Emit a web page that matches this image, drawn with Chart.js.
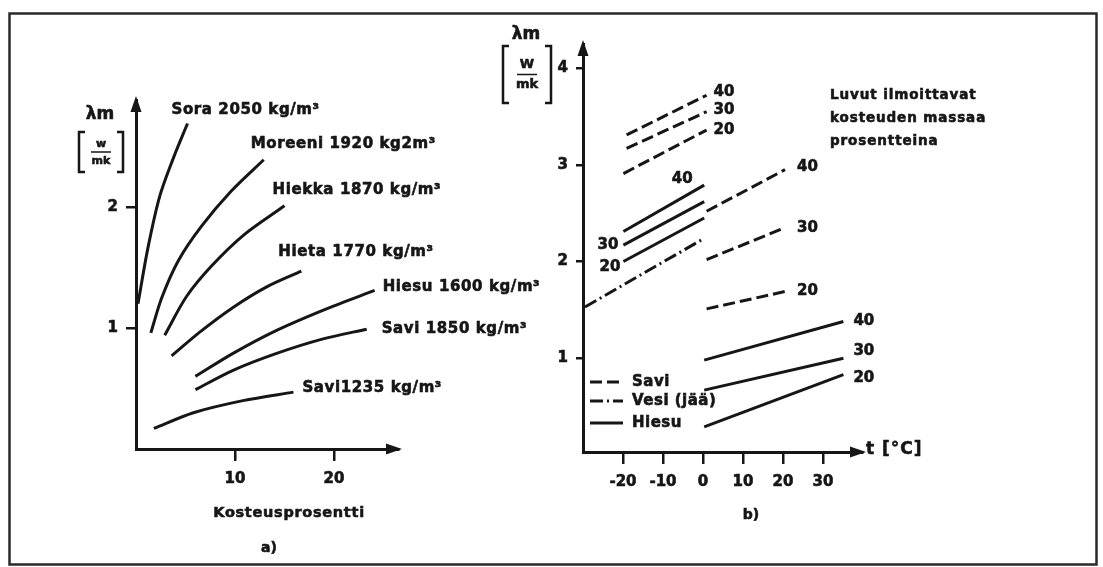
<!DOCTYPE html>
<html>
<head>
<meta charset="utf-8">
<title>Lämmönjohtavuus λm</title>
<script src="https://cdn.jsdelivr.net/npm/chart.js@4.4.1/dist/chart.umd.min.js"></script>
<style>
  html, body { margin: 0; padding: 0; background: #fff; }
  #wrap { position: relative; width: 1103px; height: 567px; }
  #wrap canvas { position: absolute; left: 0; top: 0; }
</style>
</head>
<body>
<div id="wrap">
  <canvas id="chartA" width="1103" height="567"></canvas>
  <canvas id="chartB" width="1103" height="567"></canvas>
</div>
<script>
// a) lambda_m [W/mK] against moisture percent
var moistureTicks = [10, 20];
var lambdaTicksA = [1, 2];
var sora      = [[0.2, 1.20], [1.2, 1.66], [2.4, 2.09], [3.8, 2.41], [5.2, 2.69]];
var moreeni   = [[1.5, 0.96], [2.6, 1.25], [4.3, 1.56], [6.6, 1.84], [9.6, 2.13], [12.9, 2.39]];
var hiekka    = [[2.9, 0.94], [5.1, 1.26], [7.6, 1.51], [10.9, 1.77], [15.0, 2.01]];
var hieta     = [[3.6, 0.77], [6.5, 0.97], [9.8, 1.17], [13.2, 1.34], [16.7, 1.47]];
var hiesu     = [[6.0, 0.60], [9.8, 0.79], [14.2, 0.98], [19.3, 1.16], [24.1, 1.31]];
var savi1850  = [[6.0, 0.49], [9.8, 0.65], [14.2, 0.79], [18.9, 0.91], [23.3, 0.99]];
var savi1235  = [[1.8, 0.17], [5.8, 0.30], [10.8, 0.40], [15.9, 0.47]];

// b) lambda_m [W/mK] against temperature, moisture 20/30/40 %
var tempTicks = [-20, -10, 0, 10, 20, 30];
var lambdaTicksB = [1, 2, 3, 4];
var saviCold40  = [[-19.1, 3.31], [0.9, 3.72]];
var saviCold30  = [[-19.1, 3.17], [0.9, 3.55]];
var saviCold20  = [[-19.9, 2.91], [0.9, 3.36]];
var hiesuCold40 = [[-19.9, 2.31], [0.3, 2.79]];
var hiesuCold30 = [[-19.9, 2.17], [0.3, 2.62]];
var hiesuCold20 = [[-19.9, 2.00], [0.3, 2.45]];
var vesiJaa     = [[-29.5, 1.53], [0.3, 2.24]];
var saviWarm40  = [[0.9, 2.52], [20.5, 2.95]];
var saviWarm30  = [[0.9, 2.02], [20.5, 2.35]];
var saviWarm20  = [[0.9, 1.51], [20.5, 1.69]];
var hiesuWarm40 = [[0.3, 0.98], [35.1, 1.38]];
var hiesuWarm30 = [[0.3, 0.67], [35.1, 1.00]];
var hiesuWarm20 = [[0.3, 0.29], [35.1, 0.83]];

var FONT = '"DejaVu Sans", "Liberation Sans", sans-serif';
var INK = '#161616';
var DASH = { savi: [12, 5], vesi: [13, 4, 2, 4], hiesu: [] };

function toXY(pts) {
  return pts.map(function (p) { return { x: p[0], y: p[1] }; });
}

// bold text with a thin outline, the print is heavy
function text(ctx, s, x, y, size, align, spacing) {
  ctx.save();
  ctx.font = 'bold ' + size + 'px ' + FONT;
  ctx.fillStyle = INK;
  ctx.strokeStyle = INK;
  ctx.lineWidth = 0.6;
  ctx.textAlign = align || 'left';
  ctx.textBaseline = 'middle';
  if ('letterSpacing' in ctx) ctx.letterSpacing = (spacing || 0) + 'px';
  ctx.fillText(s, x, y);
  ctx.strokeText(s, x, y);
  ctx.restore();
}

// [ W / mk ] unit in brackets
function unitBracket(ctx, cx, top, bottom, halfW, size, w) {
  var l = cx - halfW, r = cx + halfW, mid = (top + bottom) / 2;
  ctx.save();
  ctx.strokeStyle = INK;
  ctx.lineWidth = 2.5;
  ctx.beginPath();
  ctx.moveTo(l + 6, top); ctx.lineTo(l, top); ctx.lineTo(l, bottom); ctx.lineTo(l + 6, bottom);
  ctx.moveTo(r - 6, top); ctx.lineTo(r, top); ctx.lineTo(r, bottom); ctx.lineTo(r - 6, bottom);
  ctx.stroke();
  ctx.lineWidth = 1.5;
  ctx.beginPath();
  ctx.moveTo(cx - 10, mid); ctx.lineTo(cx + 10, mid);
  ctx.stroke();
  ctx.restore();
  text(ctx, w, cx, mid - size * 0.75, size, 'center');
  text(ctx, 'mk', cx, mid + size * 0.8, size, 'center');
}

function axisOpts(min, max, ticks, horizontal, tickLen, pad) {
  return {
    type: 'linear',
    min: min,
    max: max,
    afterBuildTicks: function (s) {
      s.ticks = ticks.map(function (v) { return { value: v }; });
    },
    afterFit: function (s) {
      if (horizontal) s.height = 40; else s.width = 40;
    },
    border: { display: true, color: INK, width: 3 },
    grid: { drawOnChartArea: false, drawTicks: true, tickLength: tickLen, color: INK, lineWidth: 2.5 },
    ticks: {
      color: INK,
      padding: pad,
      autoSkip: false,
      maxRotation: 0,
      textStrokeColor: INK,
      textStrokeWidth: 0.6,
      font: { family: FONT, size: 15, weight: 'bold' },
      callback: function (v) { return String(v); }
    }
  };
}

// labels on the line ends, arrowheads on the axes
var markPlugin = {
  id: 'marks',
  afterDatasetsDraw: function (chart) {
    var ctx = chart.ctx;
    chart.data.datasets.forEach(function (ds, i) {
      if (!ds.tag) return;
      var pts = chart.getDatasetMeta(i).data;
      var p = ds.tagAt === 'start' ? pts[0] : pts[pts.length - 1];
      text(ctx, ds.tag, p.x + ds.tagDx, p.y + ds.tagDy, ds.tagSize || 15, ds.tagAlign || 'left', ds.tagSpacing || 0);
    });
    var a = chart.chartArea;
    ctx.save();
    ctx.fillStyle = INK;
    ctx.beginPath();
    ctx.moveTo(a.left, a.top - 4); ctx.lineTo(a.left - 5.5, a.top + 12); ctx.lineTo(a.left + 5.5, a.top + 12);
    ctx.closePath();
    ctx.moveTo(a.right + 4, a.bottom); ctx.lineTo(a.right - 12, a.bottom - 5.5); ctx.lineTo(a.right - 12, a.bottom + 5.5);
    ctx.closePath();
    ctx.fill();
    ctx.restore();
  }
};

var paperA = {
  id: 'paperA',
  afterDraw: function (chart) {
    var ctx = chart.ctx;
    ctx.save();
    ctx.strokeStyle = '#2a2a2a';
    ctx.lineWidth = 2.5;
    ctx.strokeRect(9.5, 13.5, 1087, 551);
    ctx.restore();
    text(ctx, 'λm', 100, 115, 17, 'center');
    unitBracket(ctx, 101, 132, 172, 22, 11, 'w');
    text(ctx, 'Kosteusprosentti', 289, 513, 14.5, 'center', 0.7);
    text(ctx, 'a)', 269, 548, 14, 'center');
  }
};

var paperB = {
  id: 'paperB',
  afterDraw: function (chart) {
    var ctx = chart.ctx;
    text(ctx, 'λm', 526, 35, 17, 'center');
    unitBracket(ctx, 527, 46, 103, 24, 13, 'W');
    text(ctx, 't [°C]', 866, 450, 17, 'left', 1);
    text(ctx, 'b)', 751, 515, 14, 'center');
    text(ctx, 'Luvut ilmoittavat', 830, 95, 13.5, 'left', 0.9);
    text(ctx, 'kosteuden massaa', 830, 118, 13.5, 'left', 0.9);
    text(ctx, 'prosentteina', 830, 141, 13.5, 'left', 0.9);
    // line style key
    var key = [['Savi', DASH.savi, 382], ['Vesi (jää)', DASH.vesi, 401], ['Hiesu', DASH.hiesu, 423]];
    key.forEach(function (k) {
      ctx.save();
      ctx.strokeStyle = INK;
      ctx.lineWidth = 3;
      ctx.setLineDash(k[1]);
      ctx.beginPath();
      ctx.moveTo(590, k[2]); ctx.lineTo(623, k[2]);
      ctx.stroke();
      ctx.restore();
      text(ctx, k[0], 632, k[2], 15, 'left', 0.5);
    });
  }
};

function curve(pts, name, dx, dy) {
  return {
    data: toXY(pts), borderColor: INK, borderWidth: 3, pointRadius: 0,
    tension: 0.3, fill: false,
    tag: name, tagDx: dx, tagDy: dy, tagSize: 15, tagSpacing: 0.6
  };
}

function seg(pts, kind, tag, at, dx, dy, align) {
  return {
    data: toXY(pts), borderColor: INK, borderWidth: 3, pointRadius: 0,
    borderDash: DASH[kind], borderCapStyle: 'butt', fill: false,
    tag: tag, tagAt: at, tagDx: dx, tagDy: dy, tagAlign: align || 'left', tagSize: 15
  };
}

new Chart(document.getElementById('chartA'), {
  type: 'line',
  data: {
    datasets: [
      curve(sora, 'Sora 2050 kg/m³', -16, -13),
      curve(moreeni, 'Moreeni 1920 kg2m³', -13, -16),
      curve(hiekka, 'Hiekka 1870 kg/m³', -12, -16),
      curve(hieta, 'Hieta 1770 kg/m³', -23, -19),
      curve(hiesu, 'Hiesu 1600 kg/m³', 8, -3),
      curve(savi1850, 'Savi 1850 kg/m³', 15, 0),
      curve(savi1235, 'Savi1235 kg/m³', 9, -4)
    ]
  },
  options: {
    responsive: false,
    animation: false,
    devicePixelRatio: 1,
    layout: { padding: { left: 96, right: 705, top: 100, bottom: 78 } },
    plugins: { legend: { display: false }, tooltip: { enabled: false } },
    scales: {
      x: axisOpts(0, 26.46, moistureTicks, true, 12, 9),
      y: axisOpts(0, 2.884, lambdaTicksA, false, 10, 8)
    }
  },
  plugins: [markPlugin, paperA]
});

new Chart(document.getElementById('chartB'), {
  type: 'line',
  data: {
    datasets: [
      seg(saviCold40, 'savi', '40', 'end', 7, -3),
      seg(saviCold30, 'savi', '30', 'end', 7, -2),
      seg(saviCold20, 'savi', '20', 'end', 7, 0),
      seg(hiesuCold40, 'hiesu', '40', 'end', -22, -6, 'center'),
      seg(hiesuCold30, 'hiesu', '30', 'start', -5, 0, 'right'),
      seg(hiesuCold20, 'hiesu', '20', 'start', -3, 6, 'right'),
      seg(vesiJaa, 'vesi'),
      seg(saviWarm40, 'savi', '40', 'end', 12, -3),
      seg(saviWarm30, 'savi', '30', 'end', 12, 0),
      seg(saviWarm20, 'savi', '20', 'end', 12, 0),
      seg(hiesuWarm40, 'hiesu', '40', 'end', 10, 0),
      seg(hiesuWarm30, 'hiesu', '30', 'end', 10, -7),
      seg(hiesuWarm20, 'hiesu', '20', 'end', 10, 3)
    ]
  },
  options: {
    responsive: false,
    animation: false,
    devicePixelRatio: 1,
    layout: { padding: { left: 543, right: 241, top: 44, bottom: 75 } },
    plugins: { legend: { display: false }, tooltip: { enabled: false } },
    scales: {
      x: axisOpts(-30, 39.75, tempTicks, true, 12, 9),
      y: axisOpts(0.03, 4.25, lambdaTicksB, false, 7, 8)
    }
  },
  plugins: [markPlugin, paperB]
});
</script>
</body>
</html>
